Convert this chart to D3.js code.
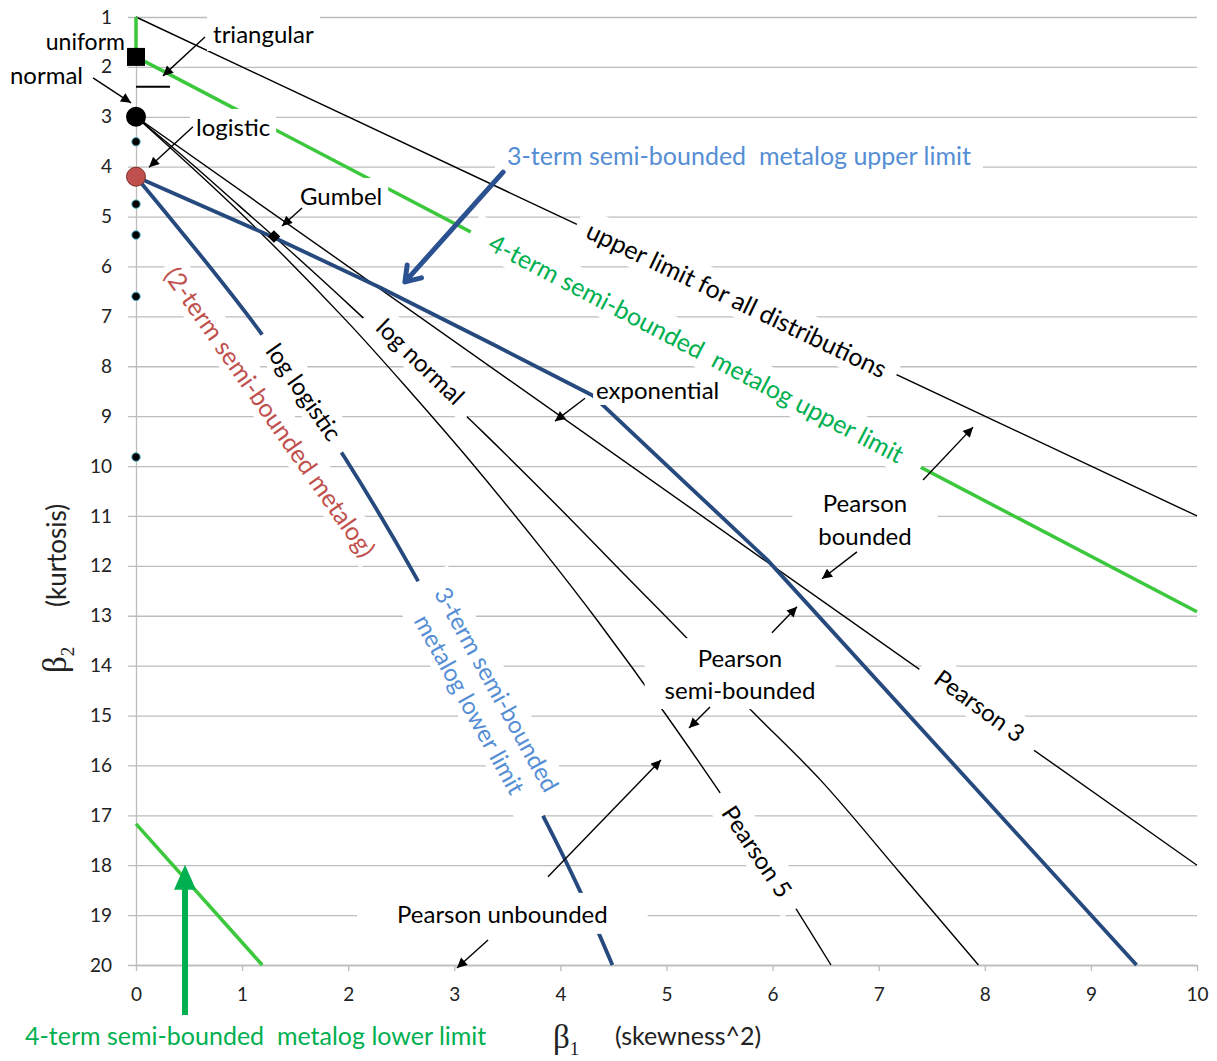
<!DOCTYPE html>
<html>
<head>
<meta charset="utf-8">
<script src="https://cdn.jsdelivr.net/npm/d3@7"></script>
<style>
  body { margin: 0; background: #fff; }
  svg { display: block; }
  text { font-family: Lato, "Open Sans", sans-serif; }
</style>
</head>
<body>
<svg id="chart"></svg>
<script>
"use strict";

/*
*  DATA  (beta1 = skewness^2, beta2 = kurtosis)
*/

var xTicks = [0, 1, 2, 3, 4, 5, 6, 7, 8, 9, 10];
var yTicks = [1, 2, 3, 4, 5, 6, 7, 8, 9, 10, 11, 12, 13, 14, 15, 16, 17, 18, 19, 20];

var upperLimitAll = [[0, 1], [10, 11]];
var metalog4Upper = [[0, 1], [0, 1.8], [10, 12.92]];
var metalog4Lower = [[0, 17.17], [1.19, 20]];
var metalog3Upper = [[0, 4.2], [1.3, 5.42], [2.3, 6.42], [3.4, 7.6], [4.3, 8.58], [5.13, 10.24],
                     [5.95, 11.88], [9.43, 20]];
var metalog3Lower = [[0, 4.2], [1.17, 7.31], [1.97, 9.84], [2.61, 12.12], [3.87, 17.15],
                     [4.17, 18.45], [4.49, 20]];
var pearson3 = [[0, 3], [10, 18]];
var logNormal = [[0, 3], [0.47, 3.84], [0.96, 4.76], [1.49, 5.76], [2.05, 6.85], [2.64, 8.04],
                 [3.27, 9.32], [3.93, 10.71], [4.62, 12.21], [5.36, 13.83], [5.71, 14.7],
                 [6.45, 16.29], [7.2, 18.15], [7.94, 20]];
var pearson5 = [[0, 3], [1.0, 4.96], [1.98, 7.08], [2.61, 8.57], [3.11, 9.8], [3.84, 11.7],
                [4.35, 13.1], [5.0, 15.0], [5.88, 17.74], [6.55, 20]];
var triangular = [[0, 2.4], [0.32, 2.4]];

var uniformPt = [0, 1.8];
var normalPt = [0, 3];
var logisticPt = [0, 4.2];
var gumbelPt = [1.3, 5.4];
var tDots = [3.5, 4.75, 5.37, 6.6, 9.82];

/*
*  ANNOTATIONS (data coordinates)
*/

var rotatedLabels = [
  { lines: ["upper limit for all distributions"], at: [5.66, 6.67], angle: 25.5, size: 25, pad: [12, 3] },
  { lines: ["4-term semi-bounded  metalog upper limit"], at: [5.28, 7.65], angle: 27.6, size: 25, color: "#00b050", pad: [22, 3] },
  { lines: ["log normal"], at: [2.68, 7.91], angle: 44, pad: [16, 2] },
  { lines: ["log logistic"], at: [1.58, 8.52], angle: 55, pad: [15, 2] },
  { lines: ["(2-term semi-bounded metalog)"], at: [1.26, 8.92], angle: 55, size: 25, color: "#c0504d", pad: [6, 2] },
  { lines: ["3-term semi-bounded", "metalog lower limit"], at: [3.27, 14.63], angle: 61, color: "#558ed5", lh: 31, pad: [18, 2] },
  { lines: ["Pearson 3"], at: [7.95, 14.81], angle: 36, pad: [18, 3] },
  { lines: ["Pearson 5"], at: [5.85, 17.73], angle: 56, pad: [17, 3] }
];

var flatLabels = [
  { lines: ["uniform"], at: [-0.104, 1.66], anchor: "end", size: 23, box: false },
  { lines: ["triangular"], at: [0.726, 1.521] },
  { lines: ["normal"], at: [-1.188, 2.343], box: false },
  { lines: ["logistic"], at: [0.566, 3.385] },
  { lines: ["Gumbel"], at: [1.546, 4.768] },
  { lines: ["exponential"], at: [4.336, 8.655], pad: [3, 1] },
  { lines: ["3-term semi-bounded  metalog upper limit"], at: [3.497, 3.966], size: 25, color: "#558ed5", pad: [12, 3] },
  { lines: ["Pearson", "bounded"], at: [6.871, 10.92], anchor: "middle", lh: 33, pad: [26, 5] },
  { lines: ["Pearson", "semi-bounded"], at: [5.693, 14.03], anchor: "middle", lh: 32, pad: [20, 5] },
  { lines: ["Pearson unbounded"], at: [2.46, 19.156], pad: [40, 6] },
  { lines: ["4-term semi-bounded  metalog lower limit"], at: [-1.046, 21.6], size: 25, color: "#00b050", box: false }
];

var arrows = [
  [[0.650, 1.40], [0.254, 2.18]],
  [[-0.405, 2.22], [-0.047, 2.72]],
  [[0.537, 3.20], [0.123, 4.01]],
  [[1.565, 4.83], [1.376, 5.19]],
  [[4.232, 8.64], [3.949, 9.10]],
  [[6.795, 11.72], [6.466, 12.26]],
  [[7.418, 10.28], [7.889, 9.22]],
  [[5.994, 13.34], [6.230, 12.82]],
  [[5.410, 14.83], [5.212, 15.25]],
  [[3.883, 18.23], [4.948, 15.89]],
  [[3.318, 19.50], [3.025, 20.06]]
];
var blueArrow = [[3.46, 4.11], [2.535, 6.31]];
var greenArrow = [[0.462, 21.0], [0.462, 17.99]];

/*
*  RUN
*/

var width = 1217,
    height = 1061;

var BLACK = "#000",
    GREEN = "#3cc83c",
    NAVY = "#264a7e",
    GRID = "#bdbdbd";

var svg = d3.select("#chart").attr("width", width).attr("height", height);

var x = d3.scaleLinear().domain([0, 10]).range([136, 1197]);
var y = d3.scaleLinear().domain([1, 20]).range([17, 965]);

svg.append("defs").append("marker")
  .attr("id", "head")
  .attr("viewBox", "0 0 10 10")
  .attr("refX", 10).attr("refY", 5)
  .attr("markerWidth", 13).attr("markerHeight", 10)
  .attr("markerUnits", "userSpaceOnUse")
  .attr("orient", "auto")
  .append("path").attr("d", "M0,0L10,5L0,10Z").attr("fill", BLACK);

// y axis + gridlines
var yAxis = svg.append("g")
  .attr("transform", "translate(" + x(0) + ",0)")
  .call(d3.axisLeft(y).tickValues(yTicks).tickSizeInner(-(x(10) - x(0))).tickSizeOuter(0).tickPadding(24));
yAxis.selectAll(".tick line").attr("x1", -8).attr("stroke", GRID).attr("stroke-width", 1.3);
yAxis.select(".domain").attr("stroke", GRID).attr("stroke-width", 1.3);
yAxis.selectAll("text").attr("font-size", 19).attr("fill", "#222");

// x axis
var xAxis = svg.append("g")
  .attr("transform", "translate(0," + y(20) + ")")
  .call(d3.axisBottom(x).tickValues(xTicks).tickSizeInner(6).tickSizeOuter(0).tickPadding(17));
xAxis.selectAll(".tick line").attr("stroke", GRID).attr("stroke-width", 1.3);
xAxis.select(".domain").attr("stroke", GRID).attr("stroke-width", 1.3);
xAxis.selectAll("text").attr("font-size", 19).attr("fill", "#222");

// curves
var straight = d3.line().x(function (d) { return x(d[0]); }).y(function (d) { return y(d[1]); });
var smooth = d3.line().x(function (d) { return x(d[0]); }).y(function (d) { return y(d[1]); })
  .curve(d3.curveCatmullRom.alpha(0.5));

var curves = [
  { data: upperLimitAll, gen: straight, color: BLACK, w: 1.4 },
  { data: pearson3, gen: straight, color: BLACK, w: 1.4 },
  { data: logNormal, gen: smooth, color: BLACK, w: 1.4 },
  { data: pearson5, gen: smooth, color: BLACK, w: 1.4 },
  { data: triangular, gen: straight, color: BLACK, w: 2 },
  { data: metalog4Upper, gen: straight, color: GREEN, w: 3.5 },
  { data: metalog4Lower, gen: straight, color: GREEN, w: 3.5 },
  { data: metalog3Upper, gen: straight, color: NAVY, w: 3.8 },
  { data: metalog3Lower, gen: smooth, color: NAVY, w: 3.8 }
];

svg.append("g").selectAll("path")
  .data(curves).enter().append("path")
  .attr("d", function (d) { return d.gen(d.data); })
  .attr("fill", "none")
  .attr("stroke", function (d) { return d.color; })
  .attr("stroke-width", function (d) { return d.w; })
  .attr("stroke-linejoin", "round");

// text labels with white boxes that mask lines behind them
function addLabel(cfg, rotated) {
  var fs = cfg.size || 24,
      lh = cfg.lh || 30,
      pad = cfg.pad || [6, 3],
      n = cfg.lines.length;
  var g = svg.append("g")
    .attr("transform", "translate(" + x(cfg.at[0]) + "," + y(cfg.at[1]) + ")" +
      (rotated ? " rotate(" + cfg.angle + ")" : ""));
  var rect = g.append("rect").attr("fill", "#fff");
  var t = g.append("text")
    .attr("font-size", fs)
    .attr("fill", cfg.color || BLACK)
    .attr("text-anchor", rotated ? "middle" : (cfg.anchor || "start"))
    .style("white-space", "pre");
  cfg.lines.forEach(function (ln, i) {
    var ty = rotated ? (i - (n - 1) / 2) * lh : i * lh;
    t.append("tspan").attr("x", 0).attr("y", ty).attr("dy", rotated ? "0.35em" : 0).text(ln);
  });
  if (cfg.box === false) { rect.remove(); return; }
  var bb = t.node().getBBox();
  rect.attr("x", bb.x - pad[0]).attr("y", bb.y - pad[1])
    .attr("width", bb.width + 2 * pad[0]).attr("height", bb.height + 2 * pad[1]);
}

rotatedLabels.forEach(function (d) { addLabel(d, true); });
flatLabels.forEach(function (d) { addLabel(d, false); });

// thin arrows
svg.append("g").selectAll("line")
  .data(arrows).enter().append("line")
  .attr("x1", function (d) { return x(d[0][0]); })
  .attr("y1", function (d) { return y(d[0][1]); })
  .attr("x2", function (d) { return x(d[1][0]); })
  .attr("y2", function (d) { return y(d[1][1]); })
  .attr("stroke", BLACK).attr("stroke-width", 1.4)
  .attr("marker-end", "url(#head)");

// big navy arrow with open head
var bx0 = x(blueArrow[0][0]), by0 = y(blueArrow[0][1]),
    bx1 = x(blueArrow[1][0]), by1 = y(blueArrow[1][1]);
var ang = Math.atan2(by1 - by0, bx1 - bx0), arm = 17, spread = 0.6;
svg.append("path")
  .attr("d", "M" + bx0 + "," + by0 + "L" + bx1 + "," + by1 +
    "M" + (bx1 - arm * Math.cos(ang - spread)) + "," + (by1 - arm * Math.sin(ang - spread)) +
    "L" + bx1 + "," + by1 +
    "L" + (bx1 - arm * Math.cos(ang + spread)) + "," + (by1 - arm * Math.sin(ang + spread)))
  .attr("fill", "none").attr("stroke", "#2b5190").attr("stroke-width", 5)
  .attr("stroke-linecap", "round").attr("stroke-linejoin", "round");

// big green arrow
var gx = x(greenArrow[0][0]), gy0 = y(greenArrow[0][1]), gy1 = y(greenArrow[1][1]);
svg.append("line").attr("x1", gx).attr("y1", gy0).attr("x2", gx).attr("y2", gy1 + 20)
  .attr("stroke", "#00b050").attr("stroke-width", 6);
svg.append("path")
  .attr("d", "M" + gx + "," + gy1 + "L" + (gx - 11) + "," + (gy1 + 25) + "L" + (gx + 11) + "," + (gy1 + 25) + "Z")
  .attr("fill", "#00b050");

// points
svg.append("g").selectAll("circle")
  .data(tDots).enter().append("circle")
  .attr("cx", x(0)).attr("cy", function (d) { return y(d); }).attr("r", 4.2)
  .attr("fill", BLACK).attr("stroke", "#4bacc6").attr("stroke-width", 1);

svg.append("rect")
  .attr("x", x(uniformPt[0]) - 9).attr("y", y(uniformPt[1]) - 9)
  .attr("width", 18).attr("height", 18).attr("fill", BLACK);
svg.append("circle").attr("cx", x(normalPt[0])).attr("cy", y(normalPt[1])).attr("r", 10).attr("fill", BLACK);
svg.append("circle").attr("cx", x(logisticPt[0])).attr("cy", y(logisticPt[1])).attr("r", 9.5)
  .attr("fill", "#c0504d").attr("stroke", "#7f2f2d").attr("stroke-width", 1);
svg.append("path")
  .attr("transform", "translate(" + x(gumbelPt[0]) + "," + y(gumbelPt[1]) + ") rotate(45)")
  .attr("d", d3.symbol().type(d3.symbolSquare).size(80)())
  .attr("fill", BLACK);

// axis titles
var xt = svg.append("text").attr("x", 553).attr("y", 1048).attr("fill", "#222");
xt.append("tspan").attr("font-family", "'Liberation Serif', serif").attr("font-size", 33).text("β");
xt.append("tspan").attr("font-family", "'Liberation Serif', serif").attr("font-size", 19).attr("dy", 7).text("1");
svg.append("text").attr("x", 615).attr("y", 1045).attr("fill", "#222")
  .attr("font-family", "'Liberation Sans', Arial, sans-serif").attr("font-size", 25).text("(skewness^2)");

var yt = svg.append("g").attr("transform", "rotate(-90)");
var yb = yt.append("text").attr("x", -673).attr("y", 66).attr("fill", "#222");
yb.append("tspan").attr("font-family", "'Liberation Serif', serif").attr("font-size", 33).text("β");
yb.append("tspan").attr("font-family", "'Liberation Serif', serif").attr("font-size", 19).attr("dy", 8).text("2");
yt.append("text").attr("x", -607).attr("y", 66).attr("fill", "#222").attr("font-size", 26).text("(kurtosis)");
</script>
</body>
</html>
